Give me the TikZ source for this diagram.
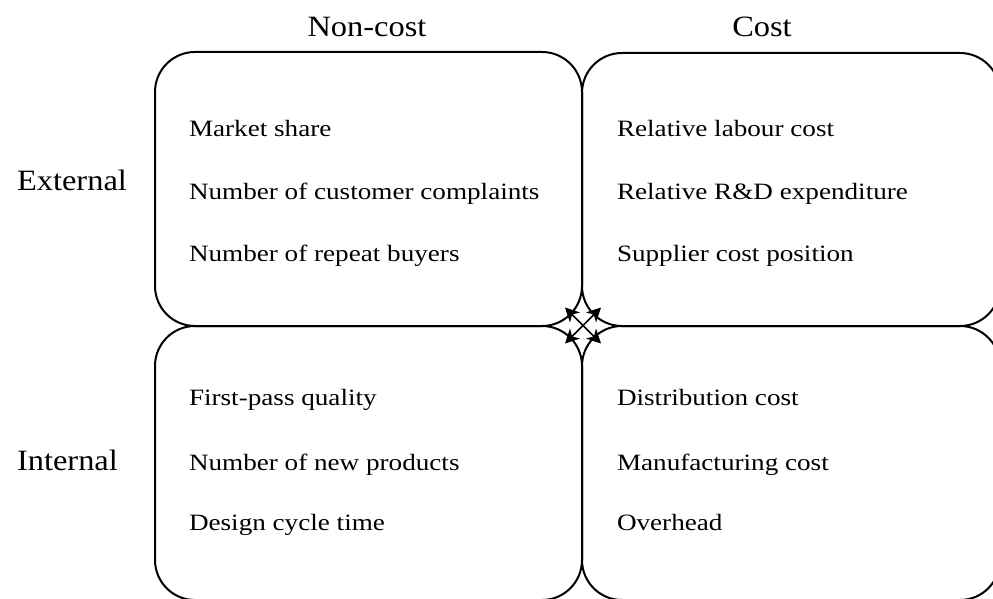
\documentclass[tikz,border=0pt]{standalone}
\usepackage{fontspec}
\setmainfont{Liberation Serif}
\newfontfamily\cellfont{Liberation Serif}[FakeStretch=1.16]
\newfontfamily\headfont{Liberation Serif}[FakeStretch=1.1]
\usetikzlibrary{arrows.meta}
\tikzset{
  quad/.style={draw,rounded corners=40pt,inner sep=0pt},
  item/.style={anchor=base west,inner sep=0pt,font=\cellfont\fontsize{23.4}{26}\selectfont},
  head/.style={inner sep=0pt,font=\headfont\fontsize{29.5}{33}\selectfont},
  twoway/.style={{Stealth[length=14pt,width=14pt,inset=4pt]}-{Stealth[length=14pt,width=14pt,inset=4pt]},line width=1.6pt}
}
\begin{document}
\begin{tikzpicture}[x=1pt,y=-1pt,line width=2pt]
\useasboundingbox (0,0) rectangle (993,599);
\clip (0,0) rectangle (993,599);
% the four quadrants
\node[quad,minimum width=427pt,minimum height=274pt] (TL) at (368.5,189) {};
\node[quad,minimum width=418pt,minimum height=273pt] (TR) at (791,189.5) {};
\node[quad,minimum width=427pt,minimum height=274pt] (BL) at (368.5,463) {};
\node[quad,minimum width=418pt,minimum height=274pt] (BR) at (791,463) {};
% crossing arrows
\node[inner sep=0pt,minimum size=34pt] (mid) at (583,325.5) {};
\draw[twoway] (mid.north west) -- (mid.south east);
\draw[twoway] (mid.north east) -- (mid.south west);
% headings
\node[head,anchor=base] (noncost) at (367,37) {Non-cost};
\node[head,anchor=base] (cost) at (762,37) {Cost};
\node[head,anchor=base west] (ext) at (16,190) {External};
\node[head,anchor=base west] (int) at (16,470) {Internal};
% external, non-cost
\node[item] (ms) at (188,137) {Market share};
\node[item] (cc) at (188,199) {Number of customer complaints};
\node[item] (rb) at (188,261) {Number of repeat buyers};
% external, cost
\node[item] (lc) at (616,137) {Relative labour cost};
\node[item] (rd) at (616,199) {Relative R\&D expenditure};
\node[item] (sc) at (616,261) {Supplier cost position};
% internal, non-cost
\node[item] (fp) at (188,405) {First-pass quality};
\node[item] (np) at (188,470) {Number of new products};
\node[item] (dc) at (188,530) {Design cycle time};
% internal, cost
\node[item] (dist) at (616,405) {Distribution cost};
\node[item] (mc) at (616,470) {Manufacturing cost};
\node[item] (oh) at (616,530) {Overhead};
\end{tikzpicture}
\end{document}
